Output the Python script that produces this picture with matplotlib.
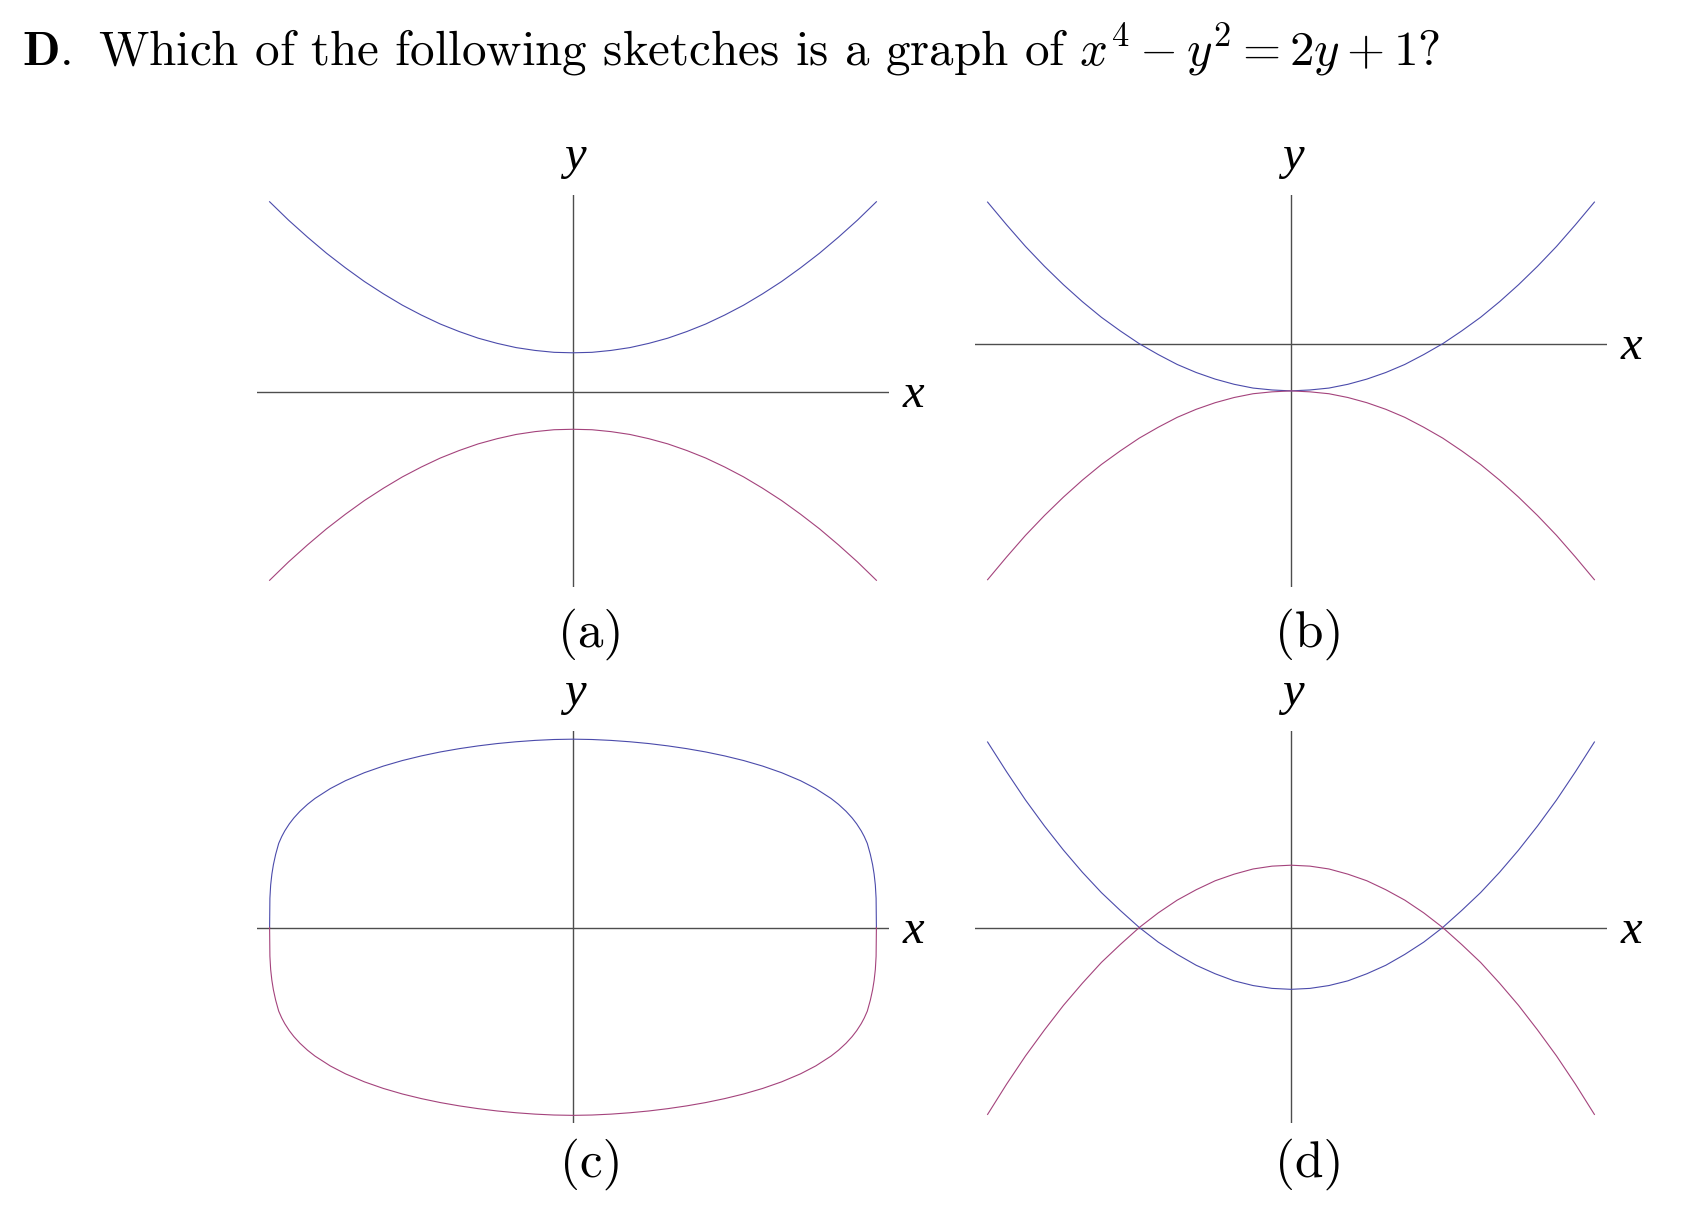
import matplotlib.pyplot as plt

plt.rcParams['font.family'] = 'serif'
plt.rcParams['font.serif'] = ['cmr10']
plt.rcParams['mathtext.fontset'] = 'cm'

W, H = 1698, 1209
fig = plt.figure(figsize=(W / 100, H / 100), dpi=100)

x_half = [0.0, 0.125, 0.25, 0.375, 0.5, 0.625, 0.75, 0.875, 1.0,
          1.125, 1.25, 1.375, 1.5, 1.625, 1.75, 1.875, 2.0]
a_top = [0.82, 0.83, 0.87, 0.93, 1.02, 1.13, 1.27, 1.43, 1.62,
         1.83, 2.07, 2.33, 2.62, 2.93, 3.27, 3.63, 4.02]
a_bot = [-0.80, -0.81, -0.85, -0.91, -1.00, -1.11, -1.25, -1.41, -1.60,
         -1.81, -2.05, -2.31, -2.60, -2.91, -3.25, -3.61, -4.00]
b_top = [-1.0, -0.98, -0.94, -0.86, -0.75, -0.61, -0.44, -0.23, 0.0,
         0.27, 0.56, 0.89, 1.25, 1.64, 2.06, 2.52, 3.0]
b_bot = [-1.0, -1.02, -1.06, -1.14, -1.25, -1.39, -1.56, -1.77, -2.0,
         -2.27, -2.56, -2.89, -3.25, -3.64, -4.06, -4.52, -5.0]
d_top = [-1.31, -1.29, -1.23, -1.13, -0.98, -0.80, -0.57, -0.31, 0.0,
         0.36, 0.74, 1.17, 1.64, 2.15, 2.70, 3.30, 3.93]
d_bot = [1.32, 1.30, 1.24, 1.13, 0.99, 0.80, 0.58, 0.31, 0.0,
         -0.36, -0.74, -1.18, -1.65, -2.17, -2.72, -3.32, -3.96]
# (c) bends hard near the ends, so more readings there
xc_half = [0.0, 0.125, 0.25, 0.375, 0.5, 0.625, 0.75, 0.875, 1.0, 1.125, 1.25,
           1.375, 1.5, 1.6, 1.7, 1.75, 1.8, 1.84, 1.87, 1.9, 1.92, 1.94, 1.96,
           1.975, 1.985, 1.993, 1.998, 2.0]
c_top = [3.99, 3.983, 3.964, 3.935, 3.897, 3.848, 3.789, 3.719, 3.635, 3.537, 3.420,
         3.280, 3.110, 2.943, 2.736, 2.610, 2.462, 2.321, 2.196, 2.047, 1.927, 1.782, 1.55,
         1.33, 1.13, 0.90, 0.62, 0.0]
c_bot = [-3.98, -3.973, -3.954, -3.925, -3.887, -3.838, -3.779, -3.709, -3.625, -3.527, -3.410,
         -3.270, -3.100, -2.933, -2.726, -2.600, -2.452, -2.311, -2.186, -2.037, -1.917, -1.772, -1.54,
         -1.32, -1.12, -0.89, -0.61, 0.0]

panels = [
    ('(a)', x_half, a_top, a_bot),
    ('(b)', x_half, b_top, b_bot),
    ('(c)', xc_half, c_top, c_bot),
    ('(d)', x_half, d_top, d_bot),
]

# layout in image pixels
cx = [573, 1291, 573, 1291]
top = [195, 195, 731, 731]
bot = [587, 587, 1123, 1123]
axis_y = [391.5, 343.7, 927.5, 927.5]
label_base = [647, 647, 1177, 1177]
xunit, yunit = 151.7, 47.2
half_w = 316

blue = '#4b4bab'
red = '#a4437c'
axis_col = '#4d4d4d'


def mirror(xh, yh):
    xs = [-v for v in xh[::-1]] + xh[1:]
    ys = yh[::-1] + yh[1:]
    return xs, ys


for i, (lab, xh, yt, yb) in enumerate(panels):
    ax = fig.add_axes([(cx[i] - half_w) / W, 1 - bot[i] / H,
                       2 * half_w / W, (bot[i] - top[i]) / H])
    ax.set_xlim(-half_w / xunit, half_w / xunit)
    ax.set_ylim(-(bot[i] - axis_y[i]) / yunit, (axis_y[i] - top[i]) / yunit)
    ax.axis('off')
    ax.axhline(0, color=axis_col, lw=1.0, zorder=1)
    ax.axvline(0, color=axis_col, lw=1.0, zorder=1)
    xs, ys = mirror(xh, yt)
    ax.plot(xs, ys, color=blue, lw=0.8, clip_on=False, zorder=2,
            solid_joinstyle='round')
    xs, ys = mirror(xh, yb)
    ax.plot(xs, ys, color=red, lw=0.8, clip_on=False, zorder=2,
            solid_joinstyle='round')

    fig.text((cx[i] + 2) / W, 1 - (top[i] - 26) / H, 'y', ha='center', va='baseline',
             family='Liberation Serif', style='italic', fontsize=35)
    fig.text((cx[i] + half_w + 14) / W, 1 - (axis_y[i] + 15.5) / H, 'x', ha='left',
             va='baseline', family='Liberation Serif', style='italic', fontsize=35)
    fig.text((cx[i] + 18) / W, 1 - label_base[i] / H, lab, ha='center', va='baseline',
             fontsize=37)

fig.text(21.7 / W, 1 - 66 / H,
         r'$\mathbf{D.}$ Which of the following sketches is a graph of $x^4 - y^2 = 2y + 1$?',
         ha='left', va='baseline', fontsize=35.3)

fig.savefig('out.png', dpi=100)
